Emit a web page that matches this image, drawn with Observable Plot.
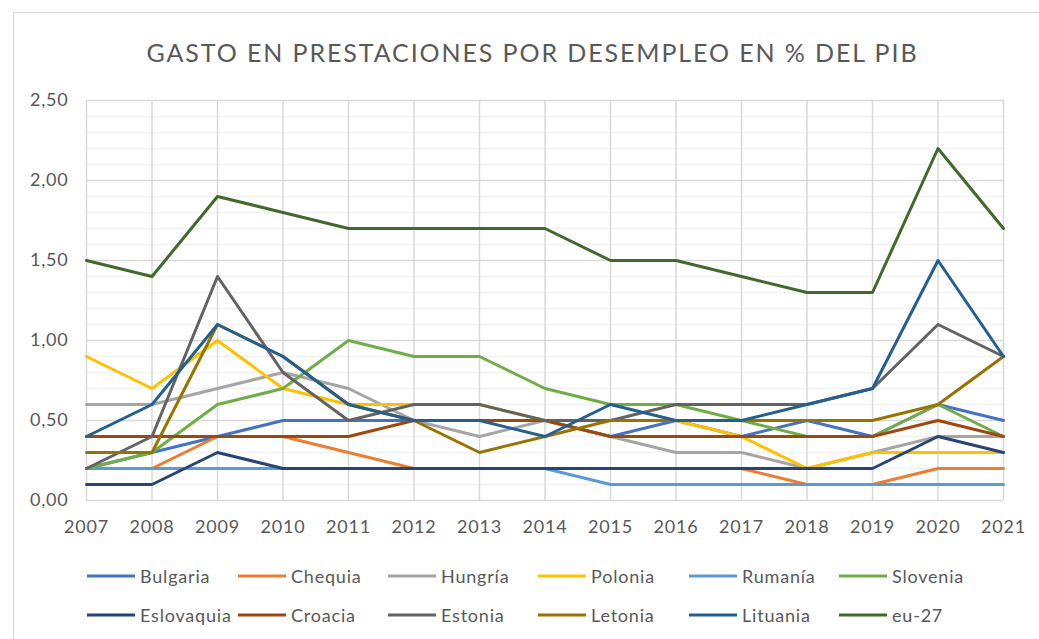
<!DOCTYPE html>
<html><head><meta charset="utf-8">
<script src="https://cdn.jsdelivr.net/npm/d3@7"></script>
<script src="https://cdn.jsdelivr.net/npm/@observablehq/plot@0.6"></script>
<style>
body{margin:0;background:#fff;font-family:Lato,sans-serif;overflow:hidden;width:1039px;height:639px;position:relative;}
#frame{position:absolute;left:13px;top:12px;width:1100px;height:700px;border-left:1.5px solid #D9D9D9;border-top:1.5px solid #D9D9D9;box-sizing:border-box;}
#title{position:absolute;left:13px;top:40px;width:1039px;text-align:center;font-size:25px;line-height:25px;letter-spacing:1.9px;color:#595959;white-space:nowrap;}
#chart{position:absolute;left:0;top:78px;}
#chart text{letter-spacing:0.8px;}
.leg{position:absolute;font-size:18px;line-height:18px;letter-spacing:0.8px;color:#595959;white-space:nowrap;display:flex;align-items:center;}
.leg svg{margin-right:5px;}
</style></head>
<body>
<div id="frame"></div>
<div id="title">GASTO EN PRESTACIONES POR DESEMPLEO EN % DEL PIB</div>
<div id="chart"></div>
<div id="legend"></div>
<script>
const years = [2007,2008,2009,2010,2011,2012,2013,2014,2015,2016,2017,2018,2019,2020,2021];
const seriesNames = ["Bulgaria","Chequia","Hungría","Polonia","Rumanía","Slovenia","Eslovaquia","Croacia","Estonia","Letonia","Lituania","eu-27"];
const seriesColors = ["#4472C4","#ED7D31","#A5A5A5","#FFC000","#5B9BD5","#70AD47","#264478","#9E480E","#636363","#997300","#255E91","#43682B"];
const yTicks = [0,0.5,1,1.5,2,2.5];
const yMinor = [0.1,0.2,0.3,0.4,0.6,0.7,0.8,0.9,1.1,1.2,1.3,1.4,1.6,1.7,1.8,1.9,2.1,2.2,2.3,2.4];

const bulgaria   = [0.2,0.3,0.4,0.5,0.5,0.5,0.5,0.5,0.4,0.5,0.4,0.5,0.4,0.6,0.5];
const chequia    = [0.2,0.2,0.4,0.4,0.3,0.2,0.2,0.2,0.2,0.2,0.2,0.1,0.1,0.2,0.2];
const hungria    = [0.6,0.6,0.7,0.8,0.7,0.5,0.4,0.5,0.4,0.3,0.3,0.2,0.3,0.4,0.4];
const polonia    = [0.9,0.7,1.0,0.7,0.6,0.6,0.6,0.5,0.5,0.5,0.4,0.2,0.3,0.3,0.3];
const rumania    = [0.2,0.2,0.2,0.2,0.2,0.2,0.2,0.2,0.1,0.1,0.1,0.1,0.1,0.1,0.1];
const slovenia   = [0.2,0.3,0.6,0.7,1.0,0.9,0.9,0.7,0.6,0.6,0.5,0.4,0.4,0.6,0.4];
const eslovaquia = [0.1,0.1,0.3,0.2,0.2,0.2,0.2,0.2,0.2,0.2,0.2,0.2,0.2,0.4,0.3];
const croacia    = [0.4,0.4,0.4,0.4,0.4,0.5,0.5,0.5,0.4,0.4,0.4,0.4,0.4,0.5,0.4];
const estonia    = [0.2,0.4,1.4,0.8,0.5,0.6,0.6,0.5,0.5,0.6,0.6,0.6,0.7,1.1,0.9];
const letonia    = [0.3,0.3,1.1,0.9,0.6,0.5,0.3,0.4,0.5,0.5,0.5,0.5,0.5,0.6,0.9];
const lituania   = [0.4,0.6,1.1,0.9,0.6,0.5,0.5,0.4,0.6,0.5,0.5,0.6,0.7,1.5,0.9];
const eu27       = [1.5,1.4,1.9,1.8,1.7,1.7,1.7,1.7,1.5,1.5,1.4,1.3,1.3,2.2,1.7];

const seriesValues = [bulgaria,chequia,hungria,polonia,rumania,slovenia,eslovaquia,croacia,estonia,letonia,lituania,eu27];
const data = [];
seriesNames.forEach((name,i)=>{
  years.forEach((yr,j)=>data.push({series:name, year:yr, value:seriesValues[i][j]}));
});

const fmt = d => d.toFixed(2).replace(".", ",");

const chart = Plot.plot({
  width: 1039, height: 462,
  marginLeft: 86, marginRight: 36, marginTop: 22, marginBottom: 40,
  x: {domain:[2007,2021], label:null},
  y: {domain:[0,2.5], label:null},
  color: {domain: seriesNames, range: seriesColors},
  style: {fontFamily:"Lato, sans-serif", fontSize:"18px", color:"#595959", background:"transparent", overflow:"visible"},
  marks: [
    Plot.gridY(yMinor, {stroke:"#F2F2F2", strokeOpacity:1, strokeWidth:1.5}),
    Plot.gridY(yTicks, {stroke:"#D9D9D9", strokeOpacity:1, strokeWidth:1.5}),
    Plot.gridX(years, {stroke:"#D9D9D9", strokeOpacity:1, strokeWidth:1.5}),
    Plot.axisY(yTicks, {tickSize:0, tickPadding:18, tickFormat:fmt, label:null, fill:"#595959"}),
    Plot.axisX(years, {tickSize:0, tickPadding:20, tickFormat:d=>String(d), label:null, fill:"#595959"}),
    Plot.line(data, {x:"year", y:"value", z:"series", stroke:"series", strokeWidth:3, strokeLinejoin:"round", strokeLinecap:"round"})
  ]
});
document.getElementById("chart").appendChild(chart);

// legend
const leg = document.getElementById("legend");
const colX = [87,238,388,538,689,839];
const rowY = [576,615];
seriesNames.forEach((name,i)=>{
  const r = Math.floor(i/6), c = i%6;
  const el = document.createElement("div");
  el.className = "leg";
  el.style.left = colX[c] + "px";
  el.style.top = (rowY[r]-10) + "px";
  el.style.height = "20px";
  el.innerHTML = `<svg width="48" height="6"><line x1="0" x2="48" y1="3" y2="3" stroke="${seriesColors[i]}" stroke-width="3"/></svg><span>${name}</span>`;
  leg.appendChild(el);
});
</script>
</body></html>
